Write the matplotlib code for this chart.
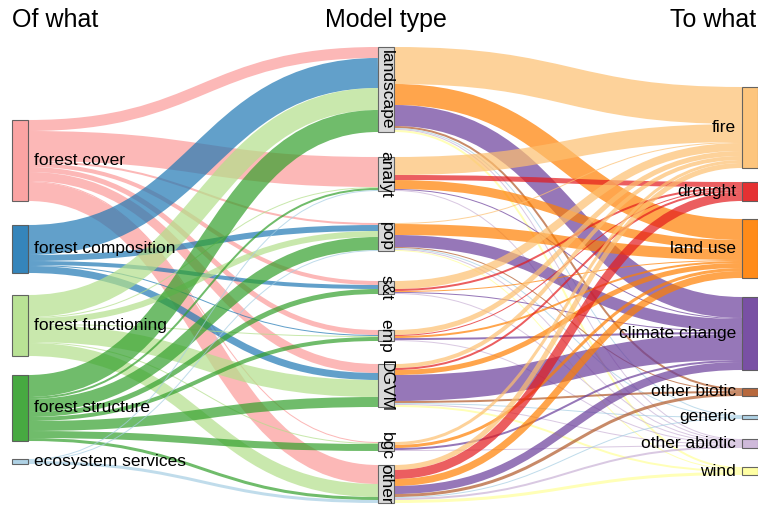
# Sankey: what is modelled -> model type -> driver
import numpy as np
import matplotlib.pyplot as plt
from matplotlib.path import Path
from matplotlib.patches import PathPatch, Rectangle

plt.rcParams['font.family'] = ['Liberation Sans', 'DejaVu Sans']

# %%
# Data (flow widths)
left_names = ['forest cover', 'forest composition', 'forest functioning',
              'forest structure', 'ecosystem services']
mid_names = ['landscape', 'analyt', 'pop', 's&t', 'emp', 'DGVM', 'bgc', 'other']
right_names = ['fire', 'drought', 'land use', 'climate change', 'other biotic',
               'generic', 'other abiotic', 'wind']

# rows: left nodes, cols: model types
left_to_mid = [
    [11, 30, 2, 4, 5, 9, 1, 19],
    [30, 0, 6, 4, 1, 7, 0, 0],
    [22, 1, 6, 0, 1, 17, 1, 13],
    [22, 2, 13, 5, 4, 10, 7, 3],
    [0, 1, 1, 0, 0, 0, 0, 3],
]
# rows: model types, cols: right nodes
mid_to_right = [
    [37, 0, 21, 21, 2, 1, 1, 2],
    [18, 5, 9, 1, 0, 0, 1, 0],
    [1, 0, 11, 12, 1, 1, 1, 1],
    [8, 2, 1, 1, 0, 0, 1, 0],
    [5, 1, 2, 2, 0, 0, 1, 0],
    [4, 2, 5, 26, 2, 1, 1, 2],
    [3, 0, 3, 2, 0, 0, 1, 0],
    [5, 9, 7, 8, 3, 1, 2, 3],
]

# %%
# Colours (ColorBrewer Paired) and layout
left_colors = ['#fb9a99', '#1f78b4', '#b2df8a', '#33a02c', '#a6cee3']
mid_color = '#d9d9d9'
right_colors = ['#fdbf6f', '#e31a1c', '#ff7f00', '#6a3d9a', '#b15928',
                '#a6cee3', '#cab2d6', '#ffff99']

left_gaps = [120, 24, 22, 19, 18]
mid_gaps = [47, 25, 32, 30, 36, 23, 35, 14]
right_gaps = [87, 14, 18, 19, 18, 19, 20, 19]
col_x = [12, 378, 742]
node_w = 16

L2M = np.array(left_to_mid, dtype=float)
M2R = np.array(mid_to_right, dtype=float)
left_vals = L2M.sum(axis=1)
mid_vals = np.maximum(L2M.sum(axis=0), M2R.sum(axis=1))
right_vals = M2R.sum(axis=0)


def stack(values, gaps):
    tops = []
    y = 0
    for v, g in zip(values, gaps):
        y += g
        tops.append(y)
        y += v
    return np.array(tops)


left_top = stack(left_vals, left_gaps)
mid_top = stack(mid_vals, mid_gaps)
right_top = stack(right_vals, right_gaps)

fig = plt.figure(figsize=(7.58, 5.05), dpi=100)
ax = fig.add_axes([0, 0, 1, 1])
ax.set_xlim(0, 758)
ax.set_ylim(505, 0)
ax.axis('off')

px2pt = 72 / fig.dpi


def draw_links(mat, src_top, tgt_top, x_src, x_tgt, colors, by_source):
    src_off = np.zeros(mat.shape[0])
    tgt_off = np.zeros(mat.shape[1])
    for i in range(mat.shape[0]):
        for j in range(mat.shape[1]):
            w = mat[i, j]
            if w <= 0:
                continue
            y0 = src_top[i] + src_off[i] + w / 2
            y1 = tgt_top[j] + tgt_off[j] + w / 2
            src_off[i] += w
            tgt_off[j] += w
            xm = (x_src + x_tgt) / 2
            path = Path([(x_src, y0), (xm, y0), (xm, y1), (x_tgt, y1)],
                        [Path.MOVETO, Path.CURVE4, Path.CURVE4, Path.CURVE4])
            c = colors[i] if by_source else colors[j]
            ax.add_patch(PathPatch(path, fill=False, edgecolor=c, alpha=0.7,
                                   lw=w * px2pt, capstyle='butt', zorder=1))


draw_links(L2M, left_top, mid_top, col_x[0] + node_w, col_x[1], left_colors, True)
draw_links(M2R, mid_top, right_top, col_x[1] + node_w, col_x[2], right_colors, False)

# nodes
for top, v, c in zip(left_top, left_vals, left_colors):
    ax.add_patch(Rectangle((col_x[0], top), node_w, v, facecolor=c, alpha=0.9,
                           edgecolor='#555555', lw=0.8, zorder=2))
for top, v in zip(mid_top, mid_vals):
    ax.add_patch(Rectangle((col_x[1], top), node_w, v, facecolor=mid_color,
                           edgecolor='#666666', lw=0.8, zorder=2))
for top, v, c in zip(right_top, right_vals, right_colors):
    ax.add_patch(Rectangle((col_x[2], top), node_w, v, facecolor=c, alpha=0.9,
                           edgecolor='#555555', lw=0.8, zorder=2))

# labels
fs = 12.5
for name, top, v in zip(left_names, left_top, left_vals):
    ax.text(col_x[0] + node_w + 6, top + v / 2, name, ha='left', va='center',
            fontsize=fs, zorder=3)
for name, top, v in zip(mid_names, mid_top, mid_vals):
    ax.text(col_x[1] + node_w / 2, top + v / 2, name, ha='center', va='center',
            rotation=-90, fontsize=fs, zorder=3)
for name, top, v in zip(right_names, right_top, right_vals):
    ax.text(col_x[2] - 6, top + v / 2, name, ha='right', va='center',
            fontsize=fs, zorder=3)

ax.text(12, 20, 'Of what', ha='left', va='center', fontsize=18)
ax.text(386, 20, 'Model type', ha='center', va='center', fontsize=18)
ax.text(756, 20, 'To what', ha='right', va='center', fontsize=18)

fig.savefig('out.png', dpi=100)
